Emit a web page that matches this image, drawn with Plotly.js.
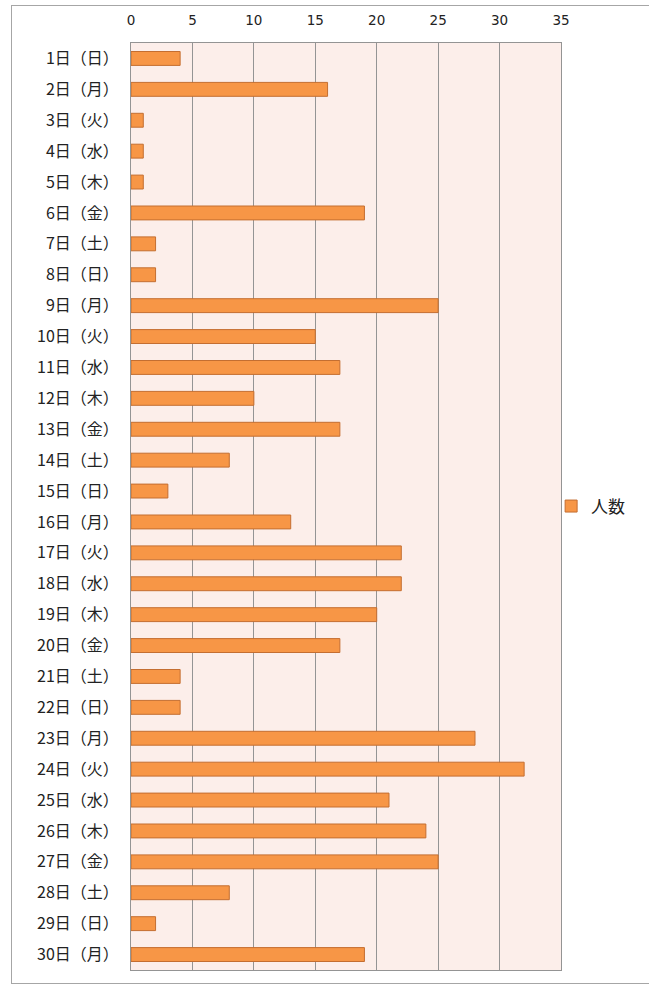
<!DOCTYPE html>
<html><head><meta charset="utf-8">
<script src="https://cdn.plot.ly/plotly-3.0.1.min.js"></script>
<style>
html,body{margin:0;padding:0;background:#fff;}
#wrap{position:relative;width:649px;height:987px;}
#chart{position:absolute;left:0;top:0;width:649px;height:987px;}
#frame{position:absolute;left:11px;top:5px;width:660px;height:979px;border:1.5px solid #a6a6a6;box-sizing:border-box;pointer-events:none;}
</style></head>
<body><div id="wrap"><div id="chart"></div><div id="frame"></div></div>
<script>
const days = ["1日（日）","2日（月）","3日（火）","4日（水）","5日（木）","6日（金）","7日（土）","8日（日）","9日（月）","10日（火）","11日（水）","12日（木）","13日（金）","14日（土）","15日（日）","16日（月）","17日（火）","18日（水）","19日（木）","20日（金）","21日（土）","22日（日）","23日（月）","24日（火）","25日（水）","26日（木）","27日（金）","28日（土）","29日（日）","30日（月）"];
const counts = [4,16,1,1,1,19,2,2,25,15,17,10,17,8,3,13,22,22,20,17,4,4,28,32,21,24,25,8,2,19];
const seriesName = "人数";
const font = "'Noto Sans CJK JP', 'DejaVu Sans', sans-serif";
Plotly.newPlot('chart', [{
  type: 'bar', orientation: 'h', y: days, x: counts, name: seriesName,
  marker: {color: '#F79646', line: {color: '#C46E31', width: 1}},
  showlegend: true
}], {
  width: 649, height: 987,
  margin: {l: 131, r: 88, t: 43, b: 17},
  paper_bgcolor: '#ffffff', plot_bgcolor: '#FCEEEA',
  bargap: 0.55,
  font: {family: font, size: 14, color: '#222'},
  xaxis: {side: 'top', range: [0, 35], dtick: 5, tick0: 0, showgrid: true, gridcolor: '#949494', gridwidth: 1,
    zeroline: false, showline: true, mirror: true, linecolor: '#949494', linewidth: 1,
    ticks: 'outside', ticklen: 12, tickcolor: 'rgba(0,0,0,0)', tickfont: {family: "'DejaVu Sans', sans-serif", size: 13.5, color: '#222'}, fixedrange: true},
  yaxis: {autorange: 'reversed', showgrid: false, zeroline: false, showline: true, mirror: true, linecolor: '#949494', linewidth: 1,
    ticks: 'outside', ticklen: 8, tickcolor: 'rgba(0,0,0,0)', tickfont: {size: 16, color: '#222'}},
  legend: {x: 0.977, y: 0.5, xanchor: 'left', yanchor: 'middle', font: {size: 17, color: '#222'}, bgcolor: 'rgba(0,0,0,0)', itemwidth: 30}
}, {staticPlot: true});
</script></body></html>
